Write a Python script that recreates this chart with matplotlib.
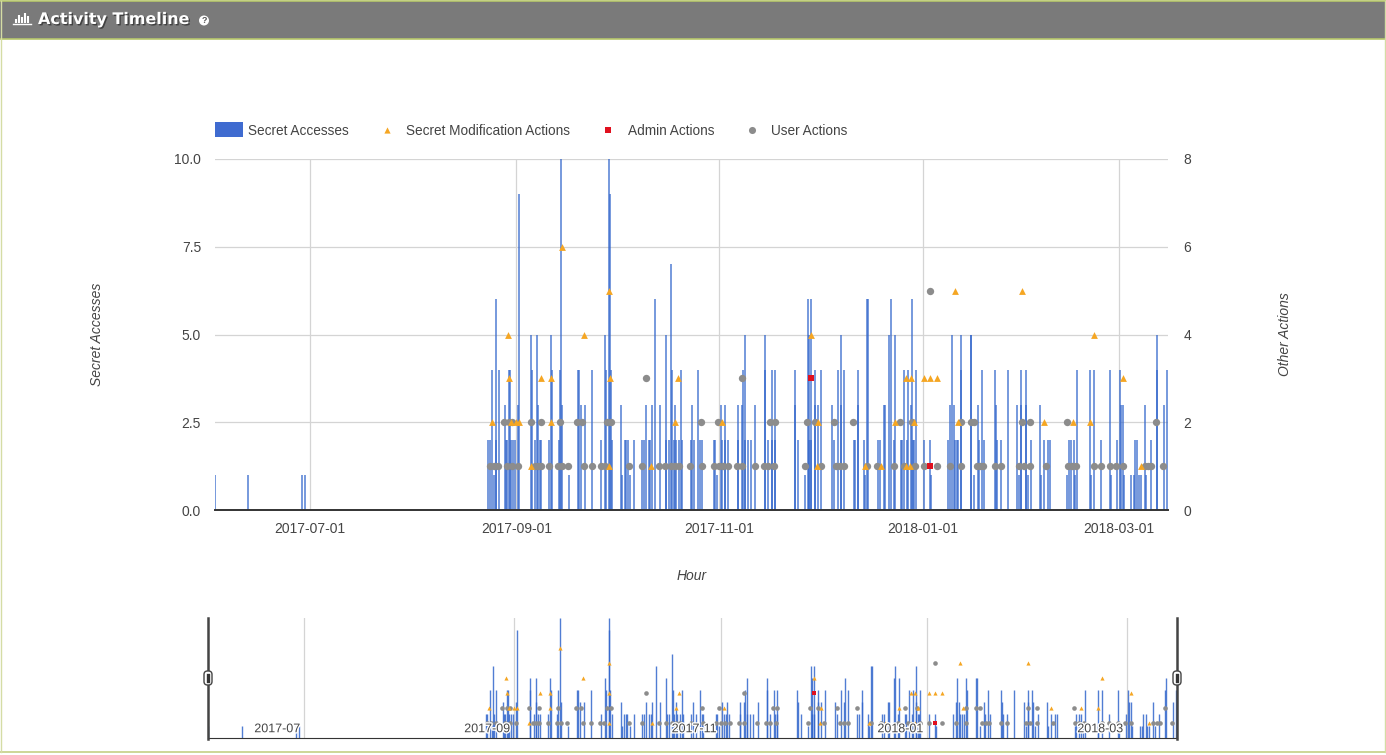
from datetime import datetime

import matplotlib
matplotlib.use('Agg')
import matplotlib.dates as mdates
import matplotlib.patheffects as pe
import matplotlib.pyplot as plt
import numpy as np
from matplotlib.patches import Circle, FancyBboxPatch, Rectangle

# all days are counted from 2017-07-01
bar_days = [
    -28.5, -18.6, -2.4, -1.5,
    53.5, 54.0, 54.8, 55.3, 55.8, 56.0, 56.7, 58.5, 58.8, 59.3, 59.8, 60.0, 60.5, 61.0, 61.7, 62.6, 62.7,
    66.5, 66.7, 67.7, 68.3, 68.5, 69.0, 69.5, 71.8, 72.5, 72.7, 74.7, 75.0, 75.5, 75.8,
    77.7, 80.5, 80.8, 81.5, 82.6, 84.6, 87.5, 88.7, 89.0, 89.8, 90.0, 90.3, 90.7,
    93.4, 93.8, 94.5, 95.0, 95.4, 96.0, 97.4, 99.8, 100.4, 101.0, 101.8, 102.2, 102.6, 103.7, 105.0,
    106.8, 107.0, 107.7, 108.5, 108.7, 109.2, 109.7, 110.0, 110.8, 111.4, 111.7,
    114.3, 114.8, 115.5, 116.7, 117.3, 117.8,
    121.5, 121.8, 122.4, 123.4, 123.8, 124.6, 124.8, 125.5,
    128.6, 128.7, 129.8, 130.1, 130.6, 130.8, 131.6, 132.6, 133.8, 136.6, 136.7, 137.6, 138.8, 138.9, 139.6, 139.7,
    145.6, 145.7, 146.6, 148.6, 149.7, 149.8, 150.0, 150.4, 150.6, 151.6, 151.7, 152.6, 153.6,
    156.7, 157.4, 158.6, 159.4, 159.5, 160.5, 163.3, 163.7, 164.6, 164.7, 166.4, 166.7, 167.4, 167.7,
    170.5, 171.1, 172.3, 172.7, 174.0, 174.5, 175.3, 175.6, 177.5, 177.7, 178.5, 179.4, 179.6, 180.6, 180.7,
    181.1, 181.5, 181.9, 184.4, 186.3, 186.4,
    191.5, 192.3, 192.7, 193.4, 194.3,
    193.7, 194.7, 195.5, 195.6, 198.4, 198.5, 199.5, 200.6, 201.0, 201.8, 202.5,
    205.7, 205.9, 206.4, 207.4, 209.5, 212.5, 213.0, 213.6, 213.7, 215.0, 215.2, 215.7, 216.5,
    219.4, 219.7, 220.6, 221.7, 222.4, 227.5, 228.0, 228.7, 229.4, 229.8, 230.4,
    234.3, 234.5, 235.6, 237.6, 240.4, 240.6, 242.5, 243.3, 243.5, 244.2, 244.4,
    246.7, 247.4, 247.8, 248.4, 248.9, 249.5, 250.7, 251.2, 252.5, 254.3, 254.5, 256.5, 257.4,
]
bar_values = [
    1, 1, 1, 1,
    2, 2, 4, 1, 6, 2, 4, 3, 2, 2, 4, 4, 2, 2, 2, 3, 9,
    5, 4, 2, 5, 3, 2, 2, 2, 5, 4, 2, 4, 10, 3,
    1, 4, 4, 3, 3, 4, 2, 5, 4, 10, 9, 4, 2,
    3, 1, 2, 2, 2, 1, 2, 2, 2, 3, 2, 2, 3, 6, 3,
    5, 2, 2, 7, 4, 2, 3, 2, 2, 4, 2,
    2, 3, 2, 4, 2, 2,
    2, 2, 1, 3, 2, 2, 3, 2,
    3, 2, 3, 4, 5, 2, 2, 2, 3, 5, 4, 2, 4, 2, 4, 2,
    4, 3, 2, 1, 6, 5, 2, 6, 2, 4, 3, 3, 4,
    3, 2, 4, 3, 5, 4, 2, 2, 4, 3, 2, 1, 6, 6,
    2, 2, 3, 3, 5, 6, 2, 5, 2, 2, 4, 2, 4, 3, 6,
    2, 2, 4, 2, 2, 1,
    2, 3, 5, 3, 2,
    2, 2, 5, 4, 5, 5, 1, 3, 2, 4, 2,
    4, 3, 2, 2, 4, 3, 1, 4, 3, 4, 3, 1, 2,
    3, 1, 2, 2, 2, 1, 2, 2, 2, 1, 4,
    4, 1, 4, 2, 4, 1, 2, 4, 3, 3, 1,
    1, 1, 2, 2, 1, 1, 3, 1, 2, 4, 5, 3, 4,
]

modification_days = [
    54.6, 59.4, 59.7, 60.5, 62.0, 62.8, 66.3, 69.5, 72.5, 72.5, 75.6, 82.4, 89.8, 90.0, 89.8, 102.5, 109.7, 110.5,
    123.9, 150.6, 152.6, 152.4, 166.6, 171.6, 175.6, 179.1, 180.4, 179.1, 180.3, 181.3, 184.4, 186.2, 188.3,
    193.6, 194.6, 213.8, 220.6, 229.2, 234.3, 235.6, 244.2, 249.5,
]
modification_values = [
    2, 4, 3, 2, 2, 2, 1, 3, 3, 2, 6, 4, 5, 3, 1, 1, 2, 3,
    2, 4, 2, 1, 1, 1, 2, 3, 3, 1, 1, 2, 3, 3, 3,
    5, 2, 5, 2, 2, 2, 4, 3, 1,
]

admin_days = [150.6, 186.3]
admin_values = [3, 1]

user_days = [
    58.3, 59.8, 60.7, 66.3, 69.3, 75.0, 80.3, 81.6, 89.2, 90.4, 117.5,
    122.5, 138.3, 139.6, 149.4, 151.6, 157.3, 163.2, 177.3, 180.8,
    195.4, 198.4, 199.4, 213.8, 216.4, 227.4, 254.2,
    54.0, 55.2, 56.6, 59.3, 60.8, 62.5, 67.6, 68.4, 69.3, 71.8, 74.6, 75.7, 77.5, 82.3, 84.6, 87.3, 88.5,
    95.8, 99.6, 104.8, 106.7, 108.5, 109.7, 110.8, 114.2, 117.8,
    121.4, 122.9, 124.1, 125.6, 128.4, 129.8, 133.6, 136.3, 137.6, 139.4, 148.6, 153.4, 158.1, 159.3, 160.5,
    167.4, 170.2, 175.4, 178.3, 181.8, 184.4, 188.4, 192.3,
    195.4, 200.2, 201.2, 202.2, 205.7, 207.4, 213.0, 214.4, 216.4, 221.2, 227.7, 228.9, 230.2,
    235.5, 237.5, 240.2, 242.2, 244.2, 250.7, 251.7, 252.7, 256.2,
    100.8, 129.7, 186.3,
]
user_values = [
    2, 2, 2, 2, 2, 2, 2, 2, 2, 2, 2,
    2, 2, 2, 2, 2, 2, 2, 2, 2,
    2, 2, 2, 2, 2, 2, 2,
    1, 1, 1, 1, 1, 1, 1, 1, 1, 1, 1, 1, 1, 1, 1, 1, 1,
    1, 1, 1, 1, 1, 1, 1, 1, 1,
    1, 1, 1, 1, 1, 1, 1, 1, 1, 1, 1, 1, 1, 1, 1,
    1, 1, 1, 1, 1, 1, 1, 1,
    1, 1, 1, 1, 1, 1, 1, 1, 1, 1, 1, 1, 1,
    1, 1, 1, 1, 1, 1, 1, 1, 1,
    3, 3, 5,
]

left_ticks = [0.0, 2.5, 5.0, 7.5, 10.0]
right_ticks = [0, 2, 4, 6, 8]
month_ticks = ['2017-07-01', '2017-09-01', '2017-11-01', '2018-01-01', '2018-03-01']
overview_labels = ['2017-07', '2017-09', '2017-11', '2018-01', '2018-03']

BLUE = '#3366cc'
ORANGE = '#f5a623'
RED = '#e0101e'
GRAY = '#8c8c8c'
TEXT = '#444444'
GRID = '#d4d4d4'
W, H = 1386, 755

plt.rcParams['font.family'] = ['Liberation Sans', 'DejaVu Sans']
start = mdates.date2num(datetime(2017, 7, 1))
month_nums = [mdates.datestr2num(m) for m in month_ticks]


def to_dates(days):
    return start + np.array(days)


def axes_px(fig, left, top, right, bottom):
    return fig.add_axes([left / W, 1 - bottom / H, (right - left) / W, (bottom - top) / H])


def draw_series(ax, ax2, bar_lw, sizes):
    ax.vlines(to_dates(bar_days), 0, bar_values, color=BLUE, lw=bar_lw, alpha=0.85, zorder=2)
    ax2.scatter(to_dates(user_days), user_values, s=sizes[0], color=GRAY, linewidths=0, zorder=3)
    ax2.scatter(to_dates(modification_days), modification_values, s=sizes[1], marker='^',
                color=ORANGE, linewidths=0, zorder=4)
    ax2.scatter(to_dates(admin_days), admin_values, s=sizes[2], marker='s', color=RED,
                linewidths=0, zorder=5)


fig = plt.figure(figsize=(W / 100, H / 100), dpi=100, facecolor='white')

# main chart
ax = axes_px(fig, 215, 159, 1168, 510)
ax.set_xlim(start - 28.5, start + 257.7)
ax.set_ylim(0, 10)
ax.set_yticks(left_ticks, [f'{v:.1f}' for v in left_ticks])
ax.set_xticks(month_nums, month_ticks)
ax.tick_params(length=0, labelsize=10, labelcolor=TEXT)
ax.tick_params(axis='x', pad=8.5)
ax.tick_params(axis='y', pad=10)
ax.grid(True, color=GRID, lw=0.9)
ax.set_axisbelow(True)
for s in ax.spines.values():
    s.set_visible(False)
ax.axhline(0, color='#333333', lw=1.4, zorder=6, clip_on=False)

ax2 = ax.twinx()
ax2.set_ylim(0, 8)
ax2.set_yticks(right_ticks)
ax2.tick_params(length=0, labelsize=10, labelcolor=TEXT, pad=11)
for s in ax2.spines.values():
    s.set_visible(False)
draw_series(ax, ax2, 1.1, (28, 24, 20))

# overview strip under the main chart
ov = axes_px(fig, 208, 618, 1177, 738)
ov.set_xlim(start - 28.5, start + 257.7)
ov.set_ylim(0, 10)
ov.set_xticks(month_nums)
ov.set_xticklabels([])
ov.set_yticks([])
ov.tick_params(length=0)
ov.grid(True, axis='x', color=GRID, lw=0.9)
ov.set_axisbelow(True)
for s in ov.spines.values():
    s.set_visible(False)
ov.spines['bottom'].set_visible(True)
ov.spines['bottom'].set_color('#333333')
ov2 = ov.twinx()
ov2.set_ylim(0, 8)
ov2.set_yticks([])
for s in ov2.spines.values():
    s.set_visible(False)
draw_series(ov, ov2, 1.0, (11, 9, 11))
for x, label in zip(month_nums, overview_labels):
    ov2.annotate(label, (x, 0), xytext=(-3, 2), textcoords='offset points', ha='right', va='bottom',
                 fontsize=9, color=TEXT, zorder=8,
                 path_effects=[pe.withStroke(linewidth=2, foreground='white')])

# page furniture, in pixel coordinates
deco = fig.add_axes([0, 0, 1, 1], zorder=10)
deco.set_xlim(0, W)
deco.set_ylim(H, 0)
deco.axis('off')
deco.add_patch(Rectangle((0, 1), W, 38, fc='#7a7a7a', ec='none'))
deco.plot([0, W], [1, 1], color='#b7c76b', lw=1.2)
deco.plot([0, W], [39, 39], color='#b7c76b', lw=1.2)
deco.plot([0, W], [752, 752], color='#c5d085', lw=1.2)
deco.plot([0.5, 0.5], [1, 752], color='#d5dca5', lw=1)
deco.plot([1385, 1385], [1, 752], color='#d5dca5', lw=1)

# header icon: small bar glyph
for x, top in zip([16, 19, 22, 25, 28], [19, 15, 17, 13, 16]):
    deco.plot([x, x], [top, 23], color='white', lw=1.5, solid_capstyle='butt')
deco.plot([13, 31], [24, 24], color='white', lw=1)
deco.text(38, 19.5, 'Activity Timeline', color='white', fontsize=11.5, fontweight='bold',
          family='DejaVu Sans', va='center',
          path_effects=[pe.withSimplePatchShadow(offset=(1, -1), shadow_rgbFace='#333333', alpha=0.8)])
deco.add_patch(Circle((204, 20.5), 5, fc='white', ec='none'))
deco.text(204, 20.8, '?', color='#555555', fontsize=6.5, fontweight='bold', ha='center', va='center')

# legend
deco.add_patch(Rectangle((215, 122), 28, 15, fc='#3f6bd0', ec='none'))
deco.scatter([387], [129.5], s=20, marker='^', color=ORANGE, linewidths=0)
deco.scatter([608], [129.5], s=14, marker='s', color=RED, linewidths=0)
deco.scatter([752], [129.5], s=26, color=GRAY, linewidths=0)
for x, label in zip([248, 406, 628, 771],
                    ['Secret Accesses', 'Secret Modification Actions', 'Admin Actions', 'User Actions']):
    deco.text(x, 131, label, color=TEXT, fontsize=9.8, va='center')

# axis titles
deco.text(97, 334, 'Secret Accesses', color=TEXT, fontsize=10, style='italic', rotation=90,
          ha='center', va='center')
deco.text(1285, 334.5, 'Other Actions', color=TEXT, fontsize=10, style='italic', rotation=90,
          ha='center', va='center')
deco.text(692, 576, 'Hour', color=TEXT, fontsize=10, style='italic', ha='center', va='center')

# overview range handles
for x in [208, 1177]:
    deco.plot([x, x], [618, 739], color='#444444', lw=1.8)
    deco.add_patch(FancyBboxPatch((x - 4, 671), 8, 14, boxstyle='round,pad=0,rounding_size=3.5',
                                  fc='white', ec='#444444', lw=1, zorder=5))
    deco.plot([x, x], [675, 681], color='#333333', lw=2.4, zorder=6)

fig.savefig('out.png', dpi=100)
